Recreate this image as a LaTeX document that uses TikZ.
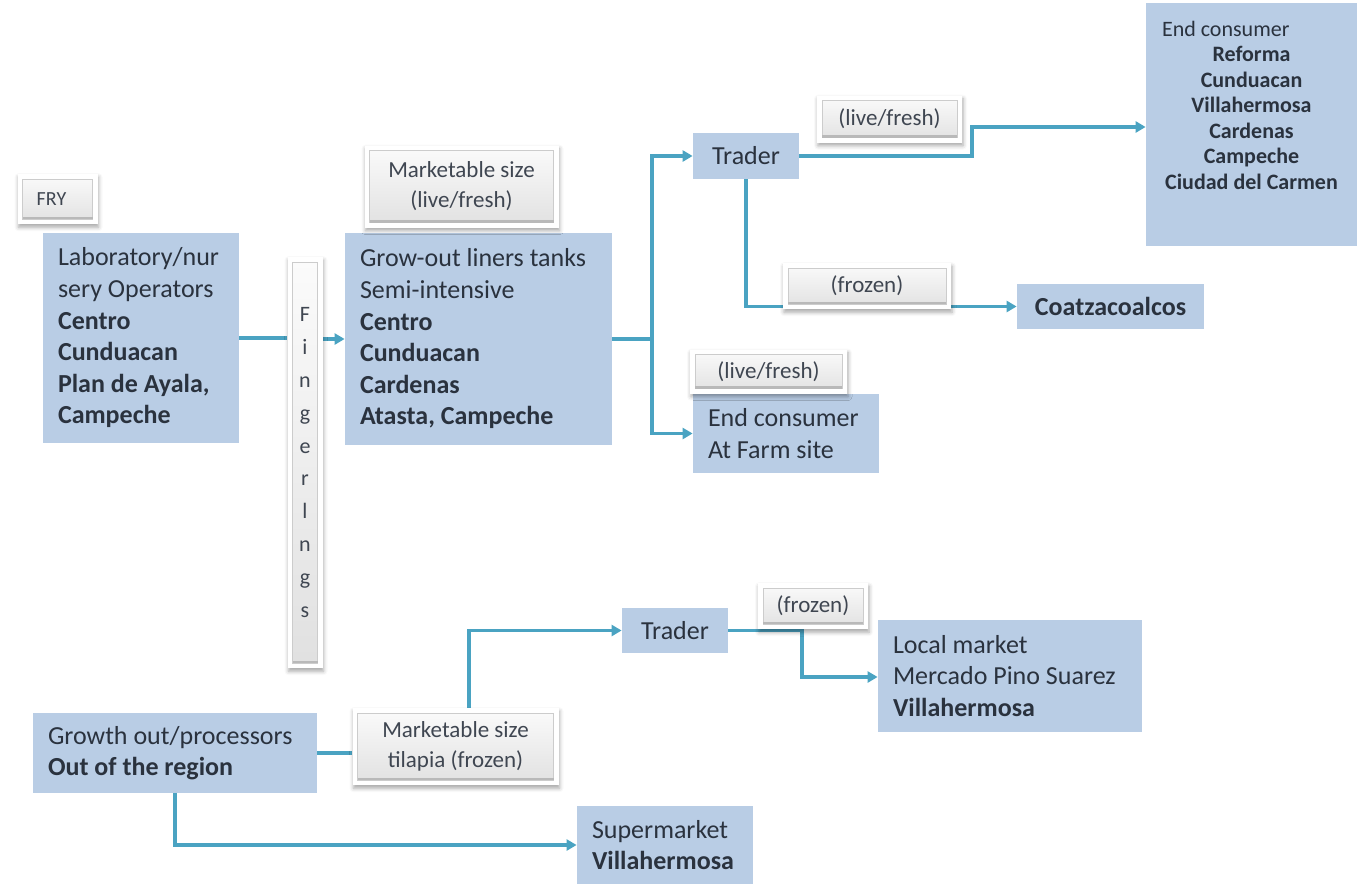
\documentclass[tikz,border=0pt]{standalone}
\usepackage{fontspec}
\setmainfont{Carlito}
\usetikzlibrary{arrows.meta,shadows.blur,calc}
\definecolor{boxblue}{RGB}{185,205,229}
\definecolor{txt}{RGB}{42,50,62}
\definecolor{conn}{RGB}{74,163,194}
\pgfdeclarelayer{bg}
\pgfsetlayers{bg,main}
\begin{document}
\begin{tikzpicture}[x=0.5pt,y=-0.5pt,
  box/.style={fill=boxblue, draw=none, inner sep=0pt, inner xsep=7.5pt, text=txt,
    font=\fontsize{13}{15.8}\selectfont, align=flush left},
  cbox/.style={box, align=center},
  btn/.style={inner sep=0pt, fill=white, text=txt!90,
    font=\fontsize{11.5}{15}\selectfont, align=center,
    blur shadow={shadow xshift=0.5pt, shadow yshift=-1.6pt, shadow opacity=35, shadow blur radius=2pt},
    path picture={
      \shadedraw[top color=gray!3, bottom color=gray!24, draw=gray!40, line width=0.5pt]
        ([shift={(2.5pt,2.5pt)}]path picture bounding box.south west) rectangle
        ([shift={(-2.5pt,-2.5pt)}]path picture bounding box.north east);
      \fill[gray!55]
        ([shift={(2.5pt,2.5pt)}]path picture bounding box.south west) rectangle
        ([shift={(-2.5pt,3.6pt)}]path picture bounding box.south east);
    }},
  conn/.style={draw=conn, line width=1.7pt},
  arr/.style={conn, -{Triangle[length=5pt,width=5.5pt]}}
]
\useasboundingbox (0,0) rectangle (1363,884);

% ---- blue boxes ----
\node[box, minimum width=98pt, minimum height=105pt, text width=83pt] (lab) at (141,338)
  {Laboratory/nur\\sery Operators\\\textbf{Centro}\\\textbf{Cunduacan}\\\textbf{Plan de Ayala,}\\\textbf{Campeche}};
\node[box, minimum width=133.5pt, minimum height=106pt, text width=118.5pt] (growout) at (478.5,339)
  {Grow-out liners tanks\\Semi-intensive\\\textbf{Centro}\\\textbf{Cunduacan}\\\textbf{Cardenas}\\\textbf{Atasta, Campeche}};
\node[cbox, minimum width=53pt, minimum height=23pt] (trader1) at (746,156) {Trader};
\node[box, inner sep=0pt, minimum width=105.5pt, minimum height=121.5pt] (endc) at (1251.5,124.5)
  {\begin{minipage}[c][121.5pt][t]{105.5pt}\fontsize{11}{12.75}\selectfont
   \vspace*{9pt}\hspace*{8pt}End consumer\par
   {\centering\bfseries Reforma\\Cunduacan\\Villahermosa\\Cardenas\\Campeche\\Ciudad del Carmen\par}
   \end{minipage}};
\node[cbox, minimum width=93.5pt, minimum height=22.5pt, font=\fontsize{13}{15.8}\selectfont\bfseries] (coatz) at (1110.5,306.5) {Coatzacoalcos};
\node[box, minimum width=93pt, minimum height=39.5pt, text width=78pt] (farm) at (786,433.5)
  {End consumer\\At Farm site};
\node[box, minimum width=142pt, minimum height=40pt, text width=127pt] (growth) at (175,753)
  {Growth out/processors\\\textbf{Out of the region}};
\node[cbox, minimum width=53pt, minimum height=22.5pt] (trader2) at (675,630.5) {Trader};
\node[box, minimum width=132pt, minimum height=56pt, text width=117pt] (local) at (1010,676)
  {Local market\\Mercado Pino Suarez\\\textbf{Villahermosa}};
\node[box, minimum width=88pt, minimum height=39pt, text width=73pt] (super) at (665,845)
  {Supermarket\\\textbf{Villahermosa}};

% ---- buttons ----
\node[btn, minimum width=40pt, minimum height=25pt, font=\fontsize{10}{12}\selectfont] (fry) at (57.5,199) {FRY\hspace*{6pt}};
\node[btn, minimum width=97pt, minimum height=41pt] (mk1) at (461.5,186.5) {Marketable size\\(live/fresh)};
\node[btn, minimum width=72.5pt, minimum height=23.5pt] (lf1) at (889.5,119) {(live/fresh)};
\node[btn, minimum width=84pt, minimum height=23pt] (fz1) at (867,286) {(frozen)};
\node[btn, minimum width=78.5pt, minimum height=22pt] (lf2) at (768.5,371.5) {(live/fresh)};
\node[btn, minimum width=55pt, minimum height=23pt] (fz2) at (813,606) {(frozen)};
\node[btn, minimum width=103pt, minimum height=38.5pt] (mk2) at (455.5,746.5) {Marketable size\\tilapia (frozen)};
\node[btn, minimum width=17.5pt, minimum height=205.5pt, font=\fontsize{11}{16.45}\selectfont] (fing) at (305,462.5)
  {F\\i\\n\\g\\e\\r\\l\\n\\g\\s};

% ---- connectors ----
\coordinate (j1) at (652,339);
\coordinate (k1) at (972,127);
\coordinate (k2) at (469,630.5);
\coordinate (k3) at (802,677);
\begin{pgfonlayer}{bg}
\draw[conn] (lab.east) -- (lab.east -| fing.west);
\draw[arr] (growout.west -| fing.east) -- (growout.west);
\draw[conn] (growout.east) -- (j1);
\draw[arr] (j1) |- (trader1.west);
\draw[arr] (j1) |- (farm.west);
\draw[arr] (trader1.east) -| (k1) -- (k1 -| endc.west);
\draw[arr] (trader1.south) |- (coatz.west);
\draw[conn] (growth.east) -- (growth.east -| mk2.west);
\draw[arr] (mk2.north -| k2) |- (trader2.west);
\draw[arr] (trader2.east) -| (k3) -- (k3 -| local.west);
\draw[arr] (growth.south) |- (super.west);
\end{pgfonlayer}
\end{tikzpicture}
\end{document}
